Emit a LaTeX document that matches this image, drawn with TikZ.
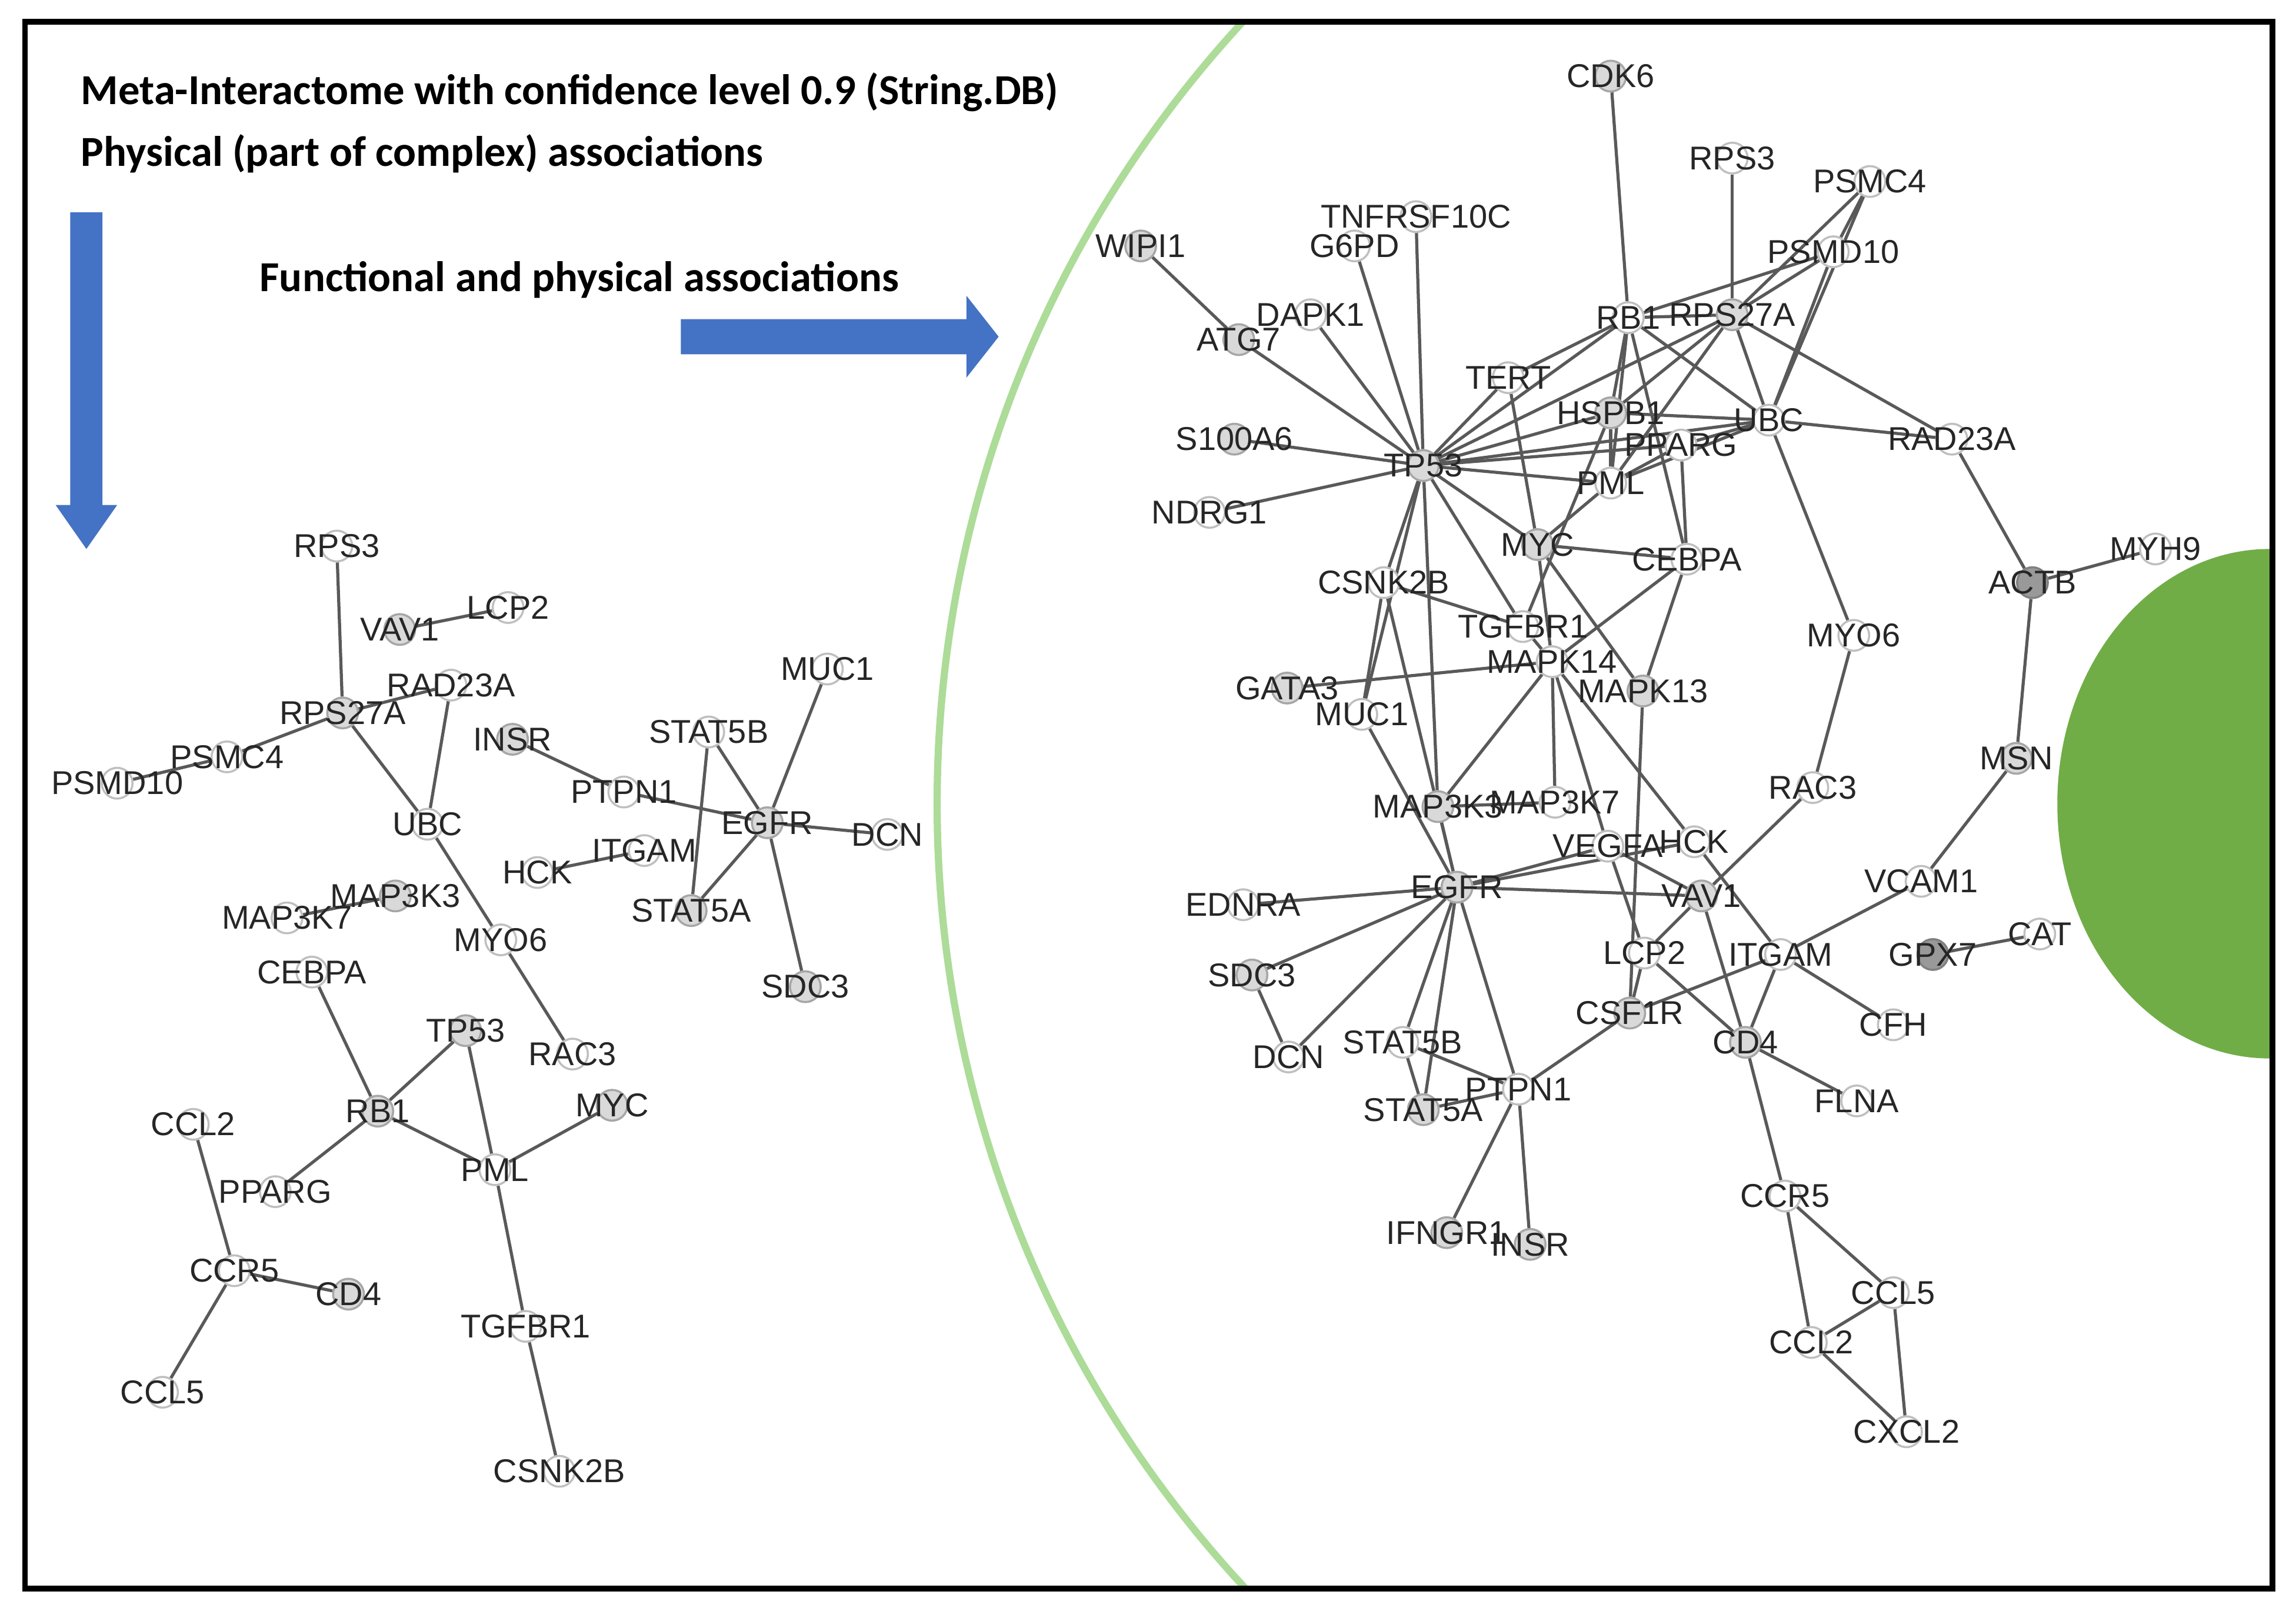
\documentclass[tikz,border=0pt]{standalone}
\usepackage{fontspec}
\setmainfont{Liberation Sans}
\newfontfamily\titlefont{Carlito}
\usetikzlibrary{backgrounds}
\definecolor{arrowblue}{RGB}{68,114,196}
\definecolor{arcgreen}{RGB}{172,220,152}
\definecolor{blobgreen}{RGB}{112,173,71}
\tikzset{
  wn/.style={circle,draw=black!25,fill=white,minimum size=0.21cm,inner sep=0pt},
  gn/.style={circle,draw=black!35,fill=black!15,minimum size=0.21cm,inner sep=0pt},
  dn/.style={circle,draw=black!50,fill=black!40,minimum size=0.21cm,inner sep=0pt},
  lbl/.style={font=\fontsize{6.4}{6.4}\selectfont,text=black!85},
  edge/.style={draw=black!65,line width=0.6pt},
  ttl/.style={font=\titlefont\bfseries\fontsize{8.3}{8.3}\selectfont,anchor=west}
}
\begin{document}
\begin{tikzpicture}[x=0.01cm,y=-0.01cm]
  \useasboundingbox (0,0) rectangle (1568,1098);
  % green arc and blob, kept inside the frame
  \begin{scope}
    \clip (17,15) rectangle (1552,1085);
    \fill[blobgreen] (1550,549) ellipse (145 and 174);
    \draw[arcgreen,line width=1.4pt] (1427.6,549) circle (787.6);
  \end{scope}
  \draw[line width=1.1pt] (17,15) rectangle (1552,1085);

  % titles and arrows
  \node[ttl] (t1) at (43,63) {Meta-Interactome with confidence level 0.9 (String.DB)};
  \node[ttl] (t2) at (43,105) {Physical (part of complex) associations};
  \node[ttl] (t3) at (165,191) {Functional and physical associations};
  \fill[arrowblue] (48,145) -- (70,145) -- (70,345) -- (80,345) -- (59,375)
    -- (38,345) -- (48,345) -- cycle;
  \fill[arrowblue] (465,218) -- (660,218) -- (660,202) -- (682,230) -- (660,258)
    -- (660,242) -- (465,242) -- cycle;

  % left network
  \foreach \n/\x/\y/\s in {RPS3/230/373/wn, VAV1/273/430/gn, LCP2/347/415/wn,
    RAD23A/308/468/wn, RPS27A/234/487/gn, PSMC4/155/517/wn, PSMD10/80/535/wn,
    INSR/350/505/gn, UBC/292/563/wn, STAT5B/484/500/wn, MUC1/565/457/wn,
    PTPN1/426/541/wn, EGFR/524/562/gn, DCN/606/570/wn, HCK/367/596/wn,
    ITGAM/440/581/wn, STAT5A/472/622/gn, MAP3K7/196/627/wn, MAP3K3/270/612/gn,
    MYO6/342/642/wn, SDC3/550/674/gn, CEBPA/213/664/wn, TP53/318/704/gn,
    RAC3/391/720/wn, MYC/418/755/gn, CCL2/132/768/wn, RB1/258/759/gn,
    PML/338/799/wn, PPARG/188/814/wn, CCR5/160/868/wn, CD4/238/884/gn,
    TGFBR1/359/906/wn, CCL5/111/951/wn, CSNK2B/382/1005/wn}
    \node[\s,label={[lbl]center:\n}] (l\n) at (\x,\y) {};
  \begin{scope}[on background layer]
    \foreach \a/\b in {RPS3/RPS27A, VAV1/LCP2, RPS27A/RAD23A, RPS27A/PSMC4,
      PSMC4/PSMD10, RPS27A/UBC, RAD23A/UBC, UBC/MYO6, MYO6/RAC3, INSR/PTPN1,
      PTPN1/EGFR, STAT5B/EGFR, STAT5B/STAT5A, MUC1/EGFR, EGFR/DCN, EGFR/SDC3,
      EGFR/STAT5A, HCK/ITGAM, MAP3K7/MAP3K3, CEBPA/RB1, RB1/TP53, RB1/PML,
      TP53/PML, PML/MYC, RB1/PPARG, PML/TGFBR1, TGFBR1/CSNK2B, CCL2/CCR5,
      CCR5/CD4, CCR5/CCL5}
      \draw[edge] (l\a) -- (l\b);
  \end{scope}

  % right network
  \foreach \n/\x/\y/\s in {CDK6/1100/52/gn, RPS3/1183/108/wn, PSMC4/1277/124/wn,
    PSMD10/1252/172/wn, TNFRSF10C/967/148/wn, G6PD/925/168/wn, WIPI1/779/168/gn,
    DAPK1/895/215/wn, ATG7/846/232/gn, RB1/1112/217/wn, RPS27A/1183/215/gn,
    TERT/1030/258/wn, HSPB1/1100/282/gn, UBC/1208/287/wn, RAD23A/1333/300/wn,
    S100A6/843/300/gn, TP53/972/318/gn, PPARG/1148/304/wn, PML/1100/330/wn,
    NDRG1/826/350/wn, MYC/1050/372/gn, CEBPA/1152/382/wn, ACTB/1388/398/dn,
    MYH9/1472/375/wn, CSNK2B/945/398/wn, TGFBR1/1040/428/wn, MAPK14/1060/452/wn,
    MYO6/1266/434/wn, GATA3/879/470/gn, MAPK13/1122/472/gn, MUC1/930/488/wn,
    MSN/1377/518/gn, MAP3K3/982/551/gn, MAP3K7/1062/548/wn, RAC3/1238/538/wn,
    VEGFA/1098/578/wn, HCK/1157/575/wn, VCAM1/1312/602/wn, EGFR/995/606/gn,
    EDNRA/849/618/wn, VAV1/1162/612/gn, GPX7/1320/652/dn, CAT/1393/638/wn,
    SDC3/855/666/gn, LCP2/1123/651/wn, ITGAM/1216/652/wn, CSF1R/1113/692/gn,
    CFH/1293/700/wn, DCN/880/722/wn, STAT5B/958/712/wn, CD4/1192/712/gn,
    PTPN1/1037/744/wn, STAT5A/972/758/gn, FLNA/1268/752/wn, CCR5/1219/817/wn,
    IFNGR1/988/842/gn, INSR/1045/850/gn, CCL5/1293/883/wn, CCL2/1237/917/wn,
    CXCL2/1302/978/wn}
    \node[\s,label={[lbl]center:\n}] (r\n) at (\x,\y) {};
  \begin{scope}[on background layer]
    \foreach \a/\b in {CDK6/RB1, RPS3/RPS27A, PSMC4/PSMD10, PSMC4/RPS27A,
      PSMC4/UBC, PSMD10/RB1, PSMD10/RPS27A, PSMD10/UBC, RB1/RPS27A, RB1/TP53,
      TERT/RB1, TERT/TP53, TERT/MYC, RB1/HSPB1, RB1/PML, RB1/CEBPA, RB1/UBC,
      RPS27A/TP53, RPS27A/HSPB1, RPS27A/PML, RPS27A/UBC, RPS27A/RAD23A,
      UBC/HSPB1, UBC/PPARG, UBC/TP53, UBC/RAD23A, UBC/MYO6, UBC/PML,
      WIPI1/ATG7, ATG7/TP53, DAPK1/TP53, G6PD/TP53, TNFRSF10C/TP53,
      S100A6/TP53, NDRG1/TP53, TP53/HSPB1, TP53/PPARG, TP53/PML, TP53/MYC,
      TP53/CSNK2B, TP53/TGFBR1, TP53/MUC1, TP53/MAP3K3, HSPB1/PML,
      HSPB1/TGFBR1, PPARG/PML, PPARG/CEBPA, PML/MYC, MYC/CEBPA, MYC/MAPK13,
      MYC/MAPK14, CSNK2B/TGFBR1, CSNK2B/MUC1, CSNK2B/EGFR, CEBPA/MAPK14,
      CEBPA/MAPK13, GATA3/MAPK14, MUC1/EGFR, MAPK14/MAP3K3, MAPK14/MAP3K7,
      MAPK14/VEGFA, MAPK14/HCK, MAPK14/TGFBR1, MAPK13/CSF1R, MAP3K3/MAP3K7,
      MAP3K3/EGFR, VEGFA/EGFR, HCK/EGFR, VEGFA/VAV1, VEGFA/LCP2, EGFR/VAV1,
      EGFR/EDNRA, EGFR/SDC3, EGFR/DCN, EGFR/STAT5B, EGFR/STAT5A, EGFR/PTPN1,
      VAV1/RAC3, VAV1/LCP2, VAV1/CD4, HCK/ITGAM, LCP2/CSF1R, LCP2/CD4,
      ITGAM/CSF1R, ITGAM/VCAM1, ITGAM/CFH, ITGAM/CD4, CSF1R/PTPN1, CD4/FLNA,
      CD4/CCR5, SDC3/DCN, STAT5B/STAT5A, STAT5B/PTPN1, STAT5A/PTPN1,
      PTPN1/IFNGR1, PTPN1/INSR, CCR5/CCL5, CCR5/CCL2, CCL5/CCL2, CCL5/CXCL2,
      CCL2/CXCL2, RAC3/MYO6, RAD23A/ACTB, ACTB/MYH9, ACTB/MSN, MSN/VCAM1,
      GPX7/CAT}
      \draw[edge] (r\a) -- (r\b);
  \end{scope}
\end{tikzpicture}
\end{document}
